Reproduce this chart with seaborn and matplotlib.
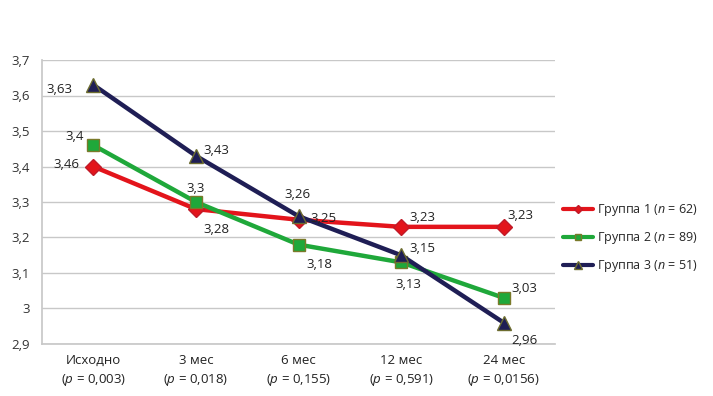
import matplotlib
matplotlib.use("Agg")
import matplotlib.pyplot as plt
import seaborn as sns
import pandas as pd

categories = ["Исходно", "3 мес", "6 мес", "12 мес", "24 мес"]
p_values = ["0,003", "0,018", "0,155", "0,591", "0,0156"]
group1 = [3.40, 3.28, 3.25, 3.23, 3.23]
group2 = [3.46, 3.30, 3.18, 3.13, 3.03]
group3 = [3.63, 3.43, 3.26, 3.15, 2.96]
names = ["Группа 1", "Группа 2", "Группа 3"]
ns = [62, 89, 51]
# label texts as printed on the chart
labels1 = ["3,46", "3,28", "3,25", "3,23", "3,23"]
labels2 = ["3,4", "3,3", "3,18", "3,13", "3,03"]
labels3 = ["3,63", "3,43", "3,26", "3,15", "2,96"]

sns.set_theme(style="white")
plt.rcParams["font.family"] = ["Open Sans", "DejaVu Sans"]
plt.rcParams["mathtext.fontset"] = "custom"
plt.rcParams["mathtext.it"] = "Open Sans:italic"
plt.rcParams["mathtext.rm"] = "Open Sans"

colors = ["#e3141b", "#1fa83a", "#1f1e55"]
edges = ["#c01a28", "#7a7a2a", "#6d6d30"]
markers = ["D", "s", "^"]
msizes = [8, 8, 10]

rows = []
for nm, n, vals in zip(names, ns, [group1, group2, group3]):
    lab = f"{nm} ($n$ = {n})"
    for i, v in enumerate(vals):
        rows.append({"x": i, "y": v, "g": lab})
df = pd.DataFrame(rows)

fig = plt.figure(figsize=(7.13, 3.96), dpi=100)
ax = fig.add_axes([42 / 713, 1 - 344 / 396, (555 - 42) / 713, (344 - 60) / 396])

hue_order = [f"{nm} ($n$ = {n})" for nm, n in zip(names, ns)]
for k, lab in enumerate(hue_order):
    sub = df[df.g == lab]
    sns.lineplot(data=sub, x="x", y="y", ax=ax, color=colors[k], lw=3.2,
                 marker=markers[k], markersize=msizes[k], markeredgecolor=edges[k],
                 markeredgewidth=1.0, label=lab, zorder=3 + k)

fs = 9.5
ax.set_xlim(-0.5, 4.5)
ax.set_ylim(2.9, 3.7)
yt = [2.9, 3.0, 3.1, 3.2, 3.3, 3.4, 3.5, 3.6, 3.7]
ax.set_yticks(yt)
ax.set_yticklabels([("%g" % t).replace(".", ",") for t in yt], fontsize=fs, color="#333333")
ax.set_xticks(range(len(categories)))
ax.set_xticklabels([f"{c}\n($p$ = {p})" for c, p in zip(categories, p_values)],
                   fontsize=fs, color="#222222", linespacing=1.45)
ax.tick_params(axis="x", length=0, pad=7)
ax.tick_params(axis="y", length=0, pad=9)
ax.set_xlabel("")
ax.set_ylabel("")
ax.grid(axis="y", color="#c8c8c8", lw=1)
ax.set_axisbelow(True)
for s in ["top", "right"]:
    ax.spines[s].set_visible(False)
ax.spines["left"].set_color("#c8c8c8")
ax.spines["bottom"].set_color("#c8c8c8")

offs1 = [(-40, 2), (8, -20), (12, 1), (8, 9), (4, 11)]
offs2 = [(-28, 9), (-9, 14), (8, -20), (-6, -22), (8, 9)]
offs3 = [(-47, -5), (8, 5), (-14, 22), (8, 7), (8, -18)]
for vals, labs, offs in [(group1, labels1, offs1), (group2, labels2, offs2), (group3, labels3, offs3)]:
    for i, (v, t, o) in enumerate(zip(vals, labs, offs)):
        ax.annotate(t, (i, v), xytext=o, textcoords="offset pixels", fontsize=fs,
                    color="#222222", va="center", ha="left", zorder=10)

leg = ax.legend(loc="center left", bbox_to_anchor=(1.0, 0.373), frameon=False,
                fontsize=9, handlelength=2.4, labelspacing=0.95, handletextpad=0.35,
                markerscale=0.55, borderaxespad=0.4, borderpad=0.2)
for h in leg.get_lines():
    h.set_linewidth(3)

fig.savefig("out.png", dpi=100)
